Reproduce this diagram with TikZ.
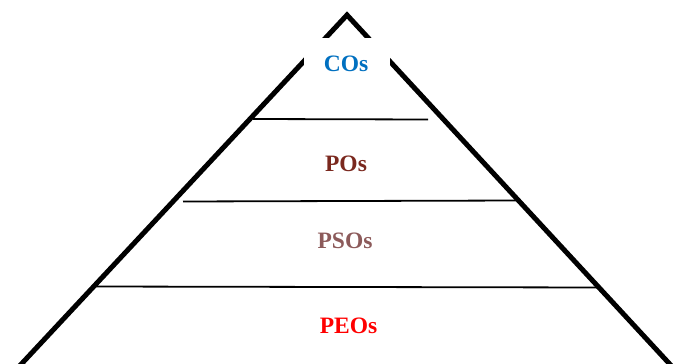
\documentclass[tikz,border=0pt]{standalone}
\usepackage{fontspec}
\setmainfont{Liberation Serif}
\definecolor{coblue}{RGB}{0,112,192}
\definecolor{pored}{RGB}{122,40,30}
\definecolor{psomauve}{RGB}{140,90,90}
\definecolor{peored}{RGB}{255,0,0}
\begin{document}
\begin{tikzpicture}[x=1pt,y=-1pt,
  side/.style={line width=5pt,line join=miter},
  tier/.style={line width=1.8pt},
  lbl/.style={anchor=base,inner sep=0pt,font=\fontsize{23.5}{28}\selectfont\bfseries}]
\useasboundingbox (0,0) rectangle (673,364);
\clip (0,0) rectangle (673,364);
\coordinate (apex) at (347,15);
\coordinate (bl) at (13,373);
\coordinate (br) at (678,373);
\draw[side] (bl) -- (apex) -- (br);
\fill[white] (304,38) rectangle (390,90);
\draw[tier] (253,119) -- (428,119.5);
\draw[tier] (183,201.5) -- (518,200.5);
\draw[tier] (93,286.5) -- (600,287.5);
\node[lbl,text=coblue] (co) at (346,71) {COs};
\node[lbl,text=pored] (po) at (346,171) {POs};
\node[lbl,text=psomauve] (pso) at (345,248) {PSOs};
\node[lbl,text=peored] (peo) at (348.5,333) {PEOs};
\end{tikzpicture}
\end{document}
